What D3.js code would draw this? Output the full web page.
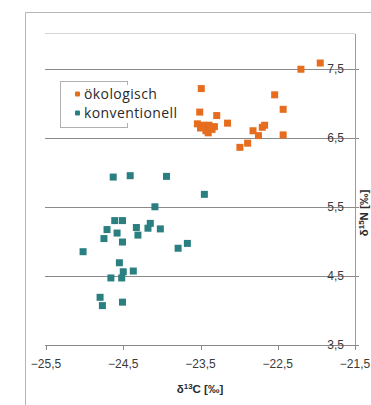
<!DOCTYPE html>
<html>
<head>
<meta charset="utf-8">
<script src="https://cdn.jsdelivr.net/npm/d3@7"></script>
<style>
  body { margin: 0; background: #fff; }
</style>
</head>
<body>
<div id="sp"></div>
<script>
// Data: delta13C (x) and delta15N (y) per sample
var oeko_x = [-21.95, -22.20, -23.49, -22.54, -22.43, -23.51, -23.29, -23.15, -23.54, -23.46,
              -23.39, -23.32, -23.43, -23.35, -22.67, -22.70, -22.82, -22.75, -22.43, -22.89,
              -22.99, -23.50, -23.40];
var oeko_y = [7.58, 7.49, 7.21, 7.12, 6.91, 6.87, 6.82, 6.71, 6.70, 6.68,
              6.68, 6.66, 6.60, 6.62, 6.68, 6.65, 6.60, 6.53, 6.54, 6.42,
              6.36, 6.64, 6.57];

var konv_x = [-24.63, -24.41, -23.94, -23.45, -24.09, -24.61, -24.51, -24.71, -24.58, -24.33,
              -24.31, -24.15, -24.18, -24.02, -24.75, -24.51, -23.79, -23.67, -25.02, -24.55,
              -24.37, -24.50, -24.66, -24.52, -24.80, -24.77, -24.51];
var konv_y = [5.93, 5.95, 5.94, 5.68, 5.50, 5.30, 5.30, 5.17, 5.12, 5.20,
              5.09, 5.26, 5.19, 5.18, 5.04, 4.99, 4.90, 4.97, 4.85, 4.69,
              4.57, 4.56, 4.47, 4.47, 4.19, 4.07, 4.12];

var series_names = ["ökologisch", "konventionell"];
var series_colors = ["#e66d1e", "#2a7f80"];

var x_ticks = [-25.5, -24.5, -23.5, -22.5, -21.5];
var y_ticks = [3.5, 4.5, 5.5, 6.5, 7.5];

var x_title = "δ<tspan baseline-shift='super' font-size='8'>13</tspan>C [‰]";
var y_title = "δ<tspan baseline-shift='super' font-size='8'>15</tspan>N [‰]";

var width = 371, height = 405;

var svg = d3.select("#sp")
  .append("svg")
  .attr("width", width)
  .attr("height", height);

var fmt = function(d) { return d3.format(".1f")(d).replace(".", ","); };

// scales
var x = d3.scaleLinear().domain([-25.5, -21.5]).range([46, 355]);
var y = d3.scaleLinear().domain([3.5, 8]).range([345, 34]);

// outer frame
svg.append("path")
  .attr("d", "M25.5," + height + "V12.5H" + width)
  .attr("fill", "none")
  .attr("stroke", "#b5b5b5");

// plot area top border
svg.append("line")
  .attr("x1", 45).attr("x2", 355)
  .attr("y1", y(8) - 0.5).attr("y2", y(8) - 0.5)
  .attr("stroke", "#d4d4d4");

// grid lines
svg.append("g").selectAll("line").data(y_ticks).enter().append("line")
  .attr("x1", 45)
  .attr("x2", 359)
  .attr("y1", function(d) { return Math.round(y(d)) + 0.5; })
  .attr("y2", function(d) { return Math.round(y(d)) + 0.5; })
  .attr("stroke", "#8a8a8a");

// y axis on the right
svg.append("line")
  .attr("x1", 355.5).attr("x2", 355.5)
  .attr("y1", y(8)).attr("y2", 349)
  .attr("stroke", "#9a9a9a");

svg.append("g").selectAll("text").data(y_ticks).enter().append("text")
  .attr("x", 344)
  .attr("y", function(d) { return y(d); })
  .attr("dy", "0.36em")
  .attr("text-anchor", "end")
  .style("font-family", "Liberation Sans, Arial, sans-serif")
  .style("font-size", "12px")
  .style("fill", "#3a3a3a")
  .text(fmt);

// x axis ticks + labels
svg.append("g").selectAll("line").data(x_ticks).enter().append("line")
  .attr("x1", function(d) { return Math.round(x(d)) + 0.5; })
  .attr("x2", function(d) { return Math.round(x(d)) + 0.5; })
  .attr("y1", 345).attr("y2", 350)
  .attr("stroke", "#8a8a8a");

svg.append("g").selectAll("text").data(x_ticks).enter().append("text")
  .attr("x", function(d) { return x(d); })
  .attr("y", 368)
  .attr("text-anchor", "middle")
  .style("font-family", "Liberation Sans, Arial, sans-serif")
  .style("font-size", "12px")
  .style("fill", "#3a3a3a")
  .text(fmt);

// axis titles
svg.append("text")
  .attr("x", 200)
  .attr("y", 393)
  .attr("text-anchor", "middle")
  .style("font-family", "Liberation Sans, Arial, sans-serif")
  .style("font-size", "11.5px")
  .style("font-weight", "bold")
  .style("fill", "#2a2a2a")
  .html(x_title);

svg.append("text")
  .attr("transform", "translate(368,213) rotate(-90)")
  .attr("text-anchor", "middle")
  .style("font-family", "Liberation Sans, Arial, sans-serif")
  .style("font-size", "11.5px")
  .style("font-weight", "bold")
  .style("fill", "#2a2a2a")
  .html(y_title);

// points
var series = [
  { name: series_names[0], color: series_colors[0], xs: oeko_x, ys: oeko_y },
  { name: series_names[1], color: series_colors[1], xs: konv_x, ys: konv_y }
];

var s = 7;
series.forEach(function(ser) {
  svg.append("g").selectAll("rect").data(ser.xs).enter().append("rect")
    .attr("x", function(d) { return x(d) - s / 2; })
    .attr("y", function(d, i) { return y(ser.ys[i]) - s / 2; })
    .attr("width", s)
    .attr("height", s)
    .attr("fill", ser.color);
});

// legend
var legend = svg.append("g");
legend.append("rect")
  .attr("x", 60.5).attr("y", 81.5)
  .attr("width", 67).attr("height", 46)
  .attr("fill", "#fff")
  .attr("stroke", "#b0b0b0");

legend.append("rect")
  .attr("x", 72).attr("y", 85)
  .attr("width", 116).attr("height", 38)
  .attr("fill", "#fff");

var items = legend.selectAll("g.item").data(series).enter().append("g")
  .attr("transform", function(d, i) { return "translate(0," + (94 + i * 19) + ")"; });

items.append("rect")
  .attr("x", 75).attr("y", -2.5)
  .attr("width", 5).attr("height", 5)
  .attr("rx", 1)
  .attr("fill", function(d) { return d.color; });

items.append("text")
  .attr("x", 84)
  .attr("dy", "0.36em")
  .style("font-family", "Open Sans, Noto Sans, sans-serif")
  .style("font-size", "14px")
  .style("letter-spacing", "0.4px")
  .style("fill", "#2a2a2a")
  .text(function(d) { return d.name; });
</script>
</body>
</html>
